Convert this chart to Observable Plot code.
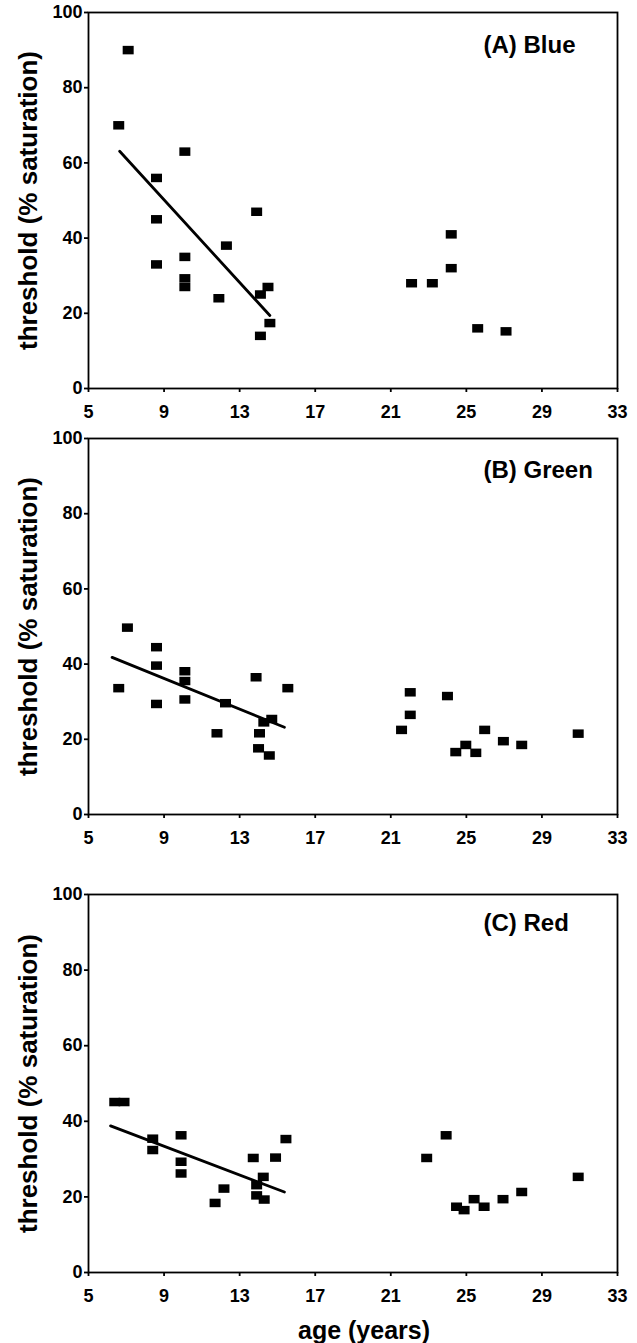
<!DOCTYPE html>
<html>
<head>
<meta charset="utf-8">
<script src="https://cdn.jsdelivr.net/npm/d3@7"></script>
<script src="https://cdn.jsdelivr.net/npm/@observablehq/plot@0.6"></script>
<style>
  html, body { margin: 0; padding: 0; background: #fff; }
  #chart { width: 637px; }
  #chart svg { display: block; }
</style>
</head>
<body>
<div id="chart"></div>
<script>
// ---- data ----
const xTicks = [5, 9, 13, 17, 21, 25, 29, 33];
const yTicks = [0, 20, 40, 60, 80, 100];
const yLabel = "threshold (% saturation)";
const xLabel = "age (years)";
const panelLabels = ["(A) Blue", "(B) Green", "(C) Red"];

const blueAge = [6.6, 7.1, 8.6, 8.6, 8.6, 10.1, 10.1, 10.1, 10.1, 11.9, 12.3, 13.9, 14.1, 14.5, 14.1, 14.6, 24.2, 24.2, 22.1, 23.2, 25.6, 27.1];
const blueVal = [70, 90, 56, 45, 33, 63, 35, 29.3, 27, 24, 38, 47, 25, 27, 14, 17.4, 41, 32, 28, 28, 16, 15.2];
const blueFitAge = [6.65, 14.6];
const blueFitVal = [63.1, 19.4];

const greenAge = [7.06, 6.6, 8.6, 8.6, 8.6, 10.1, 10.1, 10.1, 11.8, 12.25, 13.87, 14.05, 14.0, 14.57, 14.28, 14.7, 15.55, 22.03, 22.03, 21.57, 24.0, 24.44, 24.97, 25.5, 25.97, 26.96, 27.93, 30.92];
const greenVal = [49.7, 33.6, 44.5, 39.6, 29.4, 38.1, 35.5, 30.6, 21.6, 29.6, 36.5, 21.6, 17.6, 15.7, 24.5, 25.4, 33.6, 32.5, 26.5, 22.5, 31.5, 16.6, 18.5, 16.4, 22.5, 19.5, 18.5, 21.5];
const greenFitAge = [6.25, 15.37];
const greenFitVal = [41.8, 23.2];

const redAge = [6.39, 6.88, 8.4, 8.4, 9.9, 9.9, 9.9, 11.7, 12.17, 13.72, 14.25, 13.9, 13.9, 14.3, 14.9, 15.45, 22.9, 23.93, 24.48, 24.88, 25.41, 25.94, 26.94, 27.93, 30.92];
const redVal = [45.1, 45.1, 35.4, 32.4, 36.3, 29.3, 26.2, 18.4, 22.2, 30.3, 25.3, 23.1, 20.4, 19.3, 30.4, 35.3, 30.3, 36.3, 17.4, 16.5, 19.4, 17.4, 19.4, 21.3, 25.3];
const redFitAge = [6.17, 15.37];
const redFitVal = [38.8, 21.3];

// ---- build tables ----
const toRows = (ages, vals) => ages.map((a, i) => ({age: a, value: vals[i]}));

const panels = [
  {label: panelLabels[0], pts: toRows(blueAge, blueVal), fit: toRows(blueFitAge, blueFitVal),
   height: 425, marginTop: 12, marginBottom: 37, labelDy: 33, showX: false},
  {label: panelLabels[1], pts: toRows(greenAge, greenVal), fit: toRows(greenFitAge, greenFitVal),
   height: 435, marginTop: 13, marginBottom: 46, labelDy: 32, showX: false},
  {label: panelLabels[2], pts: toRows(redAge, redVal), fit: toRows(redFitAge, redFitVal),
   height: 483, marginTop: 34, marginBottom: 71, labelDy: 29, showX: true}
];

// rectangular (slightly wide) square marker
const boxSymbol = { draw(ctx) { ctx.rect(-5.5, -4.25, 11, 8.5); } };

const font = "'Liberation Sans', Arial, Helvetica, sans-serif";
const container = document.getElementById("chart");

for (const p of panels) {
  const marks = [
    Plot.frame({stroke: "#000", strokeWidth: 1.8}),
    Plot.axisX(xTicks, {tickSize: 4, tickPadding: 13, strokeWidth: 1.8, fontSize: 18, fontWeight: "bold", label: null}),
    Plot.axisY(yTicks, {tickSize: 4, tickPadding: 2, strokeWidth: 1.8, fontSize: 18, fontWeight: "bold", label: null}),
    Plot.line(p.fit, {x: "age", y: "value", stroke: "#000", strokeWidth: 2.8}),
    Plot.dot(p.pts, {x: "age", y: "value", symbol: boxSymbol, fill: "#000", stroke: "none"}),
    Plot.text([p.label], {frameAnchor: "top-left", dx: 395, dy: p.labelDy, textAnchor: "start", lineAnchor: "middle",
      fontSize: 24, fontWeight: "bold", fill: "#000"}),
    Plot.text([yLabel], {frameAnchor: "left", dx: -60, rotate: -90, textAnchor: "middle", lineAnchor: "middle",
      fontSize: 26, fontWeight: "bold", fill: "#000"})
  ];
  if (p.showX) {
    marks.push(Plot.text([xLabel], {frameAnchor: "bottom", dx: 11, dy: 58, lineAnchor: "middle",
      fontSize: 25, fontWeight: "bold", fill: "#000"}));
  }
  const chart = Plot.plot({
    width: 637,
    height: p.height,
    marginLeft: 88,
    marginRight: 20,
    marginTop: p.marginTop,
    marginBottom: p.marginBottom,
    style: {fontFamily: font, fontSize: "18px", fontWeight: "bold", background: "#fff", color: "#000", overflow: "visible"},
    x: {domain: [5, 33]},
    y: {domain: [0, 100]},
    marks
  });
  container.appendChild(chart);
}
</script>
</body>
</html>
